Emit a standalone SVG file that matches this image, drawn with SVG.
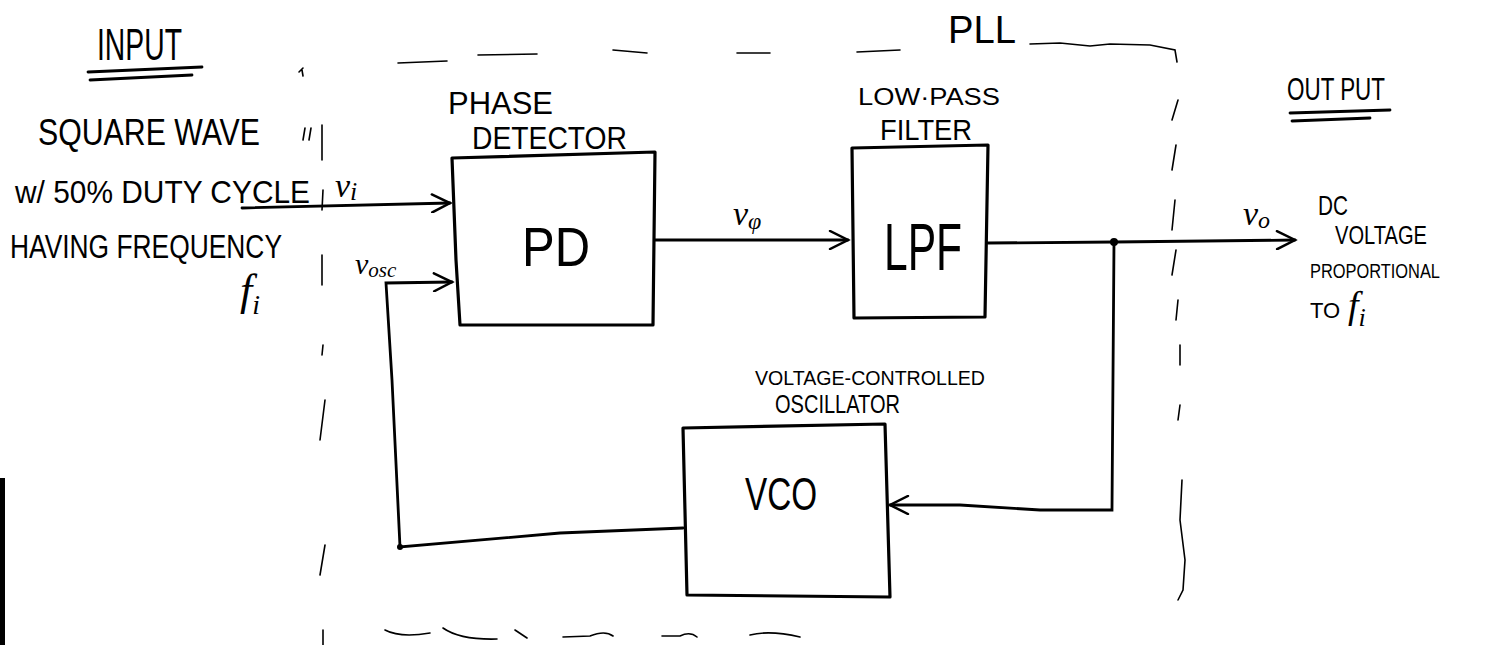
<svg xmlns="http://www.w3.org/2000/svg" width="1511" height="645" viewBox="0 0 1511 645">
<defs>
<marker id="arr" markerWidth="24" markerHeight="20" refX="20" refY="10" orient="auto" markerUnits="userSpaceOnUse">
<path d="M2,1 L20,10 L2,19" fill="none" stroke="#000" stroke-width="2.5" stroke-linecap="round"/>
</marker>
<style>
.box{fill:none;stroke:#000;stroke-width:3.2;stroke-linejoin:round}
.wire{fill:none;stroke:#000;stroke-width:2.8;stroke-linecap:round}
.dash{fill:none;stroke:#000;stroke-width:1.6;stroke-linecap:round}
.t{font-family:"Liberation Sans",Arial,sans-serif;fill:#000}
.v{font-family:"Liberation Serif","Times New Roman",serif;font-style:italic;fill:#000}
</style>
</defs>
<rect width="1511" height="645" fill="#fff"/>
<rect x="0" y="478" width="5" height="167" fill="#000"/>

<g id="pll-boundary">
<path class="dash" d="M299,72 L303,68 M302,70 L303,76"/>
<path class="dash" d="M305,128 L303,140 M311,128 L309,140"/>
<path class="dash" d="M398,63 L447,61 M478,55 L537,54 M613,50 L647,53 M737,53 L770,53 M857,52 L900,50 M1030,44 L1060,43 L1090,46 L1110,44 L1150,45 L1175,50 L1177,62"/>
<path class="dash" d="M1178,100 L1172,120 M1176,145 L1172,170 M1175,200 L1172,230 M1176,250 L1172,275 M1178,300 L1176,320 M1180,345 L1180,365 M1180,405 L1178,420 M1182,480 L1180,520 L1185,560 L1183,590 L1178,600"/>
<path class="dash" d="M322,125 L322,160 M323,190 L322,210 M322,255 L322,285 M323,345 L322,355 M325,400 L320,440 M325,545 L320,575 M323,630 L323,645"/>
<path class="dash" d="M385,630 Q400,638 430,633 M443,628 Q460,640 497,639 M515,630 L527,638 M563,637 L590,636 Q605,630 613,636 M662,636 L680,636 Q690,631 697,637 M750,635 Q770,630 800,637"/>
</g>

<g id="connectors">
<path class="wire" d="M242,208 L450,203" marker-end="url(#arr)"/>
<path class="wire" d="M655,240 L848,240" marker-end="url(#arr)"/>
<path class="wire" d="M988,243 L1114,242 L1295,240" marker-end="url(#arr)"/>
<circle cx="1114" cy="242" r="4" fill="#000"/>
<path class="wire" d="M1114,242 L1112,510 L1040,510 L960,505 L890,505" marker-end="url(#arr)"/>
<path class="wire" d="M683,528 L560,533 L400,547 L392,380 L386,283 L452,282" marker-end="url(#arr)"/>
<circle cx="400" cy="547" r="3" fill="#000"/>
</g>

<g id="input-label">
<text class="t" x="97" y="60" font-size="44" textLength="85" lengthAdjust="spacingAndGlyphs">INPUT</text>
<path class="wire" d="M88,72 L202,67 M90,80 L192,75"/>
<text class="t" x="38" y="145" font-size="36" textLength="222" lengthAdjust="spacingAndGlyphs">SQUARE WAVE</text>
<text class="t" x="15" y="203" font-size="32" textLength="295" lengthAdjust="spacingAndGlyphs">w/ 50% DUTY CYCLE</text>
<text class="t" x="10" y="258" font-size="33" textLength="272" lengthAdjust="spacingAndGlyphs">HAVING FREQUENCY</text>
<text class="v" x="240" y="305" font-size="44">f<tspan font-size="28" dy="9">i</tspan></text>
<text class="v" x="335" y="197" font-size="34">v<tspan font-size="26" dy="3">i</tspan></text>
<text class="v" x="355" y="274" font-size="30">v<tspan font-size="21" dy="3">osc</tspan></text>
</g>

<g id="pd">
<path class="box" d="M452,158 L655,152 L653,325 L460,325 L456,260 Z"/>
<text class="t" x="448" y="114" font-size="32" textLength="105" lengthAdjust="spacingAndGlyphs">PHASE</text>
<text class="t" x="472" y="149" font-size="31" textLength="155" lengthAdjust="spacingAndGlyphs">DETECTOR</text>
<text class="t" x="522" y="266" font-size="56" textLength="68" lengthAdjust="spacingAndGlyphs">PD</text>
<text class="v" x="733" y="225" font-size="34">v<tspan font-size="24" dy="4">φ</tspan></text>
</g>

<g id="lpf">
<path class="box" d="M852,148 L988,145 L985,317 L854,318 Z"/>
<text class="t" x="858" y="105" font-size="24" textLength="142" lengthAdjust="spacingAndGlyphs">LOW·PASS</text>
<text class="t" x="880" y="140" font-size="30" textLength="92" lengthAdjust="spacingAndGlyphs">FILTER</text>
<text class="t" x="884" y="270" font-size="66" textLength="78" lengthAdjust="spacingAndGlyphs">LPF</text>
<text class="t" x="948" y="43" font-size="38" textLength="68" lengthAdjust="spacingAndGlyphs">PLL</text>
</g>

<g id="vco">
<path class="box" d="M683,428 L885,424 L890,597 L687,595 Z"/>
<text class="t" x="755" y="385" font-size="20" textLength="230" lengthAdjust="spacingAndGlyphs">VOLTAGE-CONTROLLED</text>
<text class="t" x="775" y="413" font-size="26" textLength="125" lengthAdjust="spacingAndGlyphs">OSCILLATOR</text>
<text class="t" x="745" y="510" font-size="46" textLength="72" lengthAdjust="spacingAndGlyphs">VCO</text>
</g>

<g id="output-label">
<text class="t" x="1287" y="100" font-size="32" textLength="98" lengthAdjust="spacingAndGlyphs">OUT PUT</text>
<path class="wire" d="M1290,113 L1390,110 M1292,121 L1370,118"/>
<text class="v" x="1243" y="225" font-size="34">v<tspan font-size="24" dy="3">o</tspan></text>
<text class="t" x="1318" y="215" font-size="28" textLength="30" lengthAdjust="spacingAndGlyphs">DC</text>
<text class="t" x="1335" y="244" font-size="26" textLength="92" lengthAdjust="spacingAndGlyphs">VOLTAGE</text>
<text class="t" x="1310" y="278" font-size="20" textLength="130" lengthAdjust="spacingAndGlyphs">PROPORTIONAL</text>
<text class="t" x="1310" y="318" font-size="22">TO</text>
<text class="v" x="1348" y="318" font-size="38">f<tspan font-size="26" dy="8">i</tspan></text>
</g>
</svg>
